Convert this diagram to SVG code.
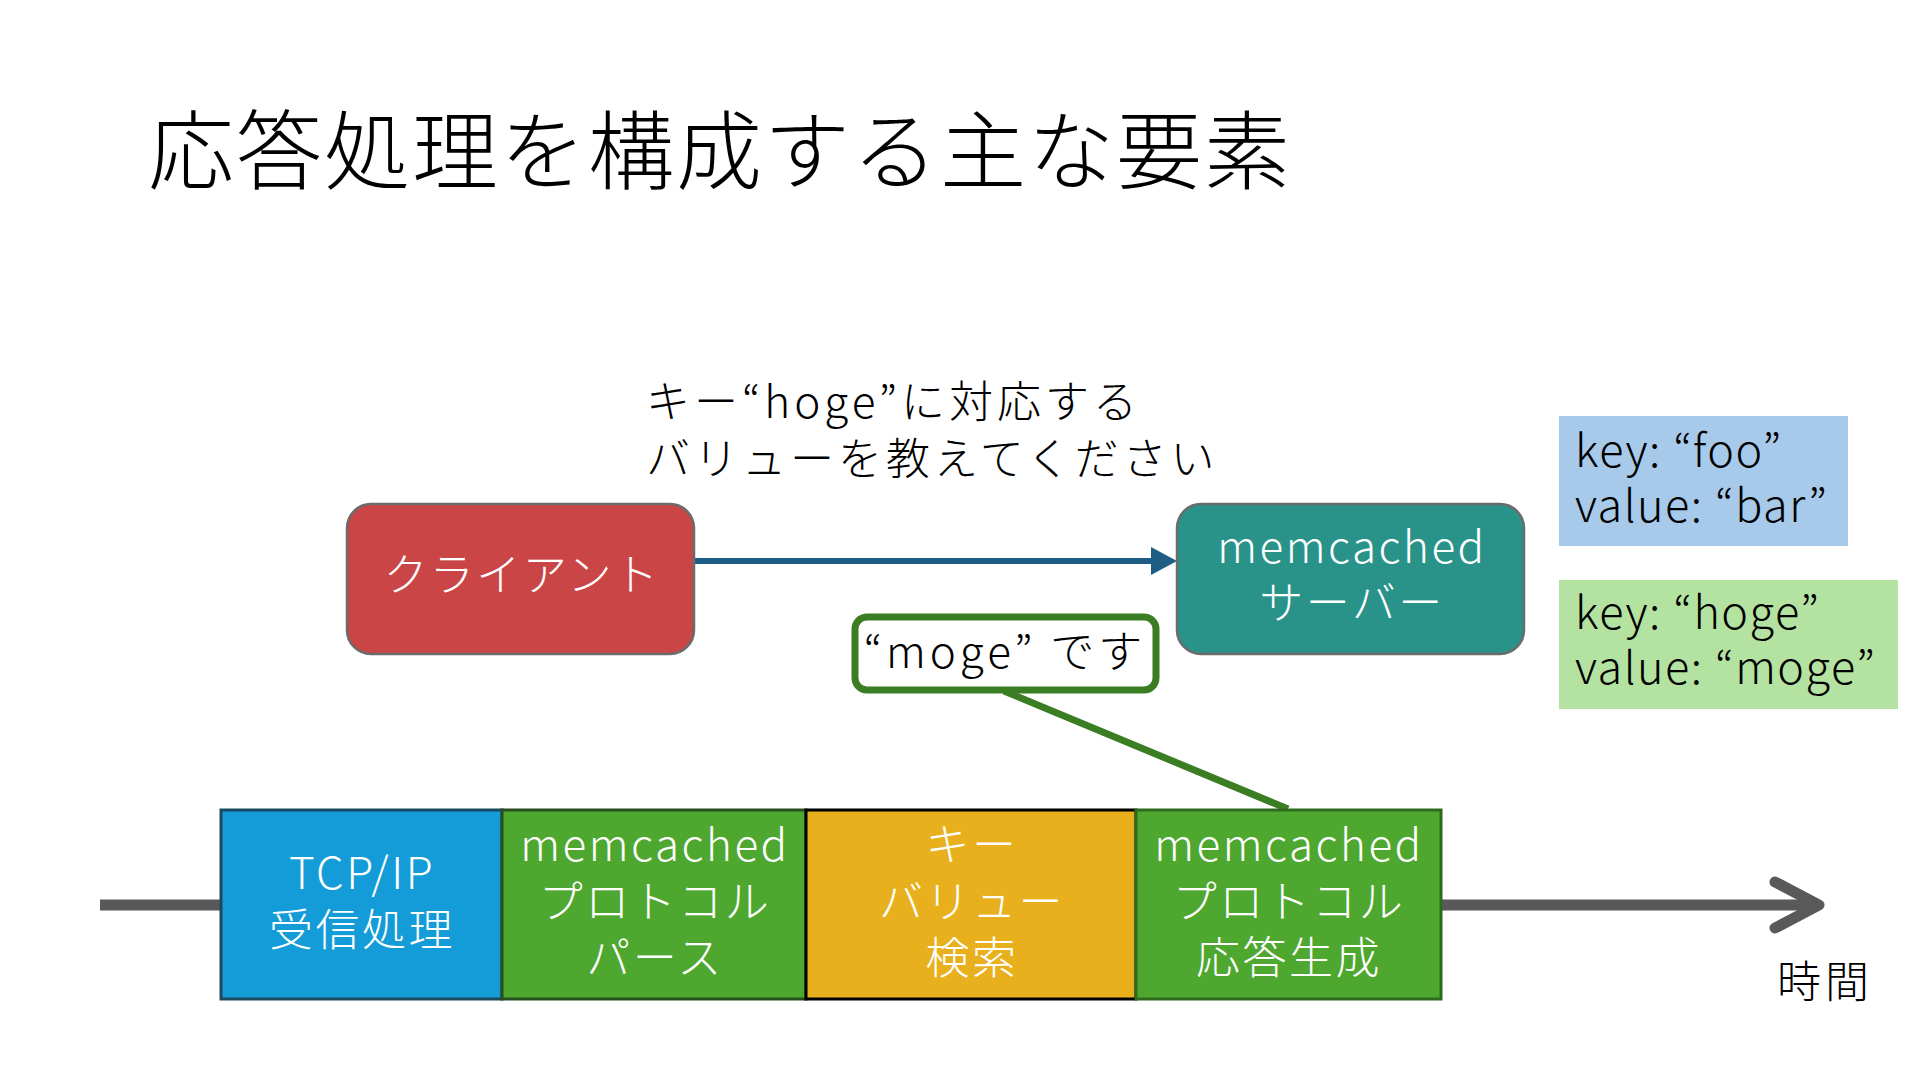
<svg xmlns="http://www.w3.org/2000/svg" width="1920" height="1080" viewBox="0 0 1920 1080">
<style>
text{font-family:"Noto Sans CJK JP","Noto Sans",sans-serif;font-weight:300}
.title{font-size:86px;fill:#000;letter-spacing:2px}
.lbl{font-size:44px;fill:#000;letter-spacing:4px}
.w{font-size:44px;fill:#fff;text-anchor:middle;letter-spacing:2.5px}
.kv{font-size:45px;fill:#000;letter-spacing:1.5px}
.seg{stroke-width:3}
</style>
<rect width="1920" height="1080" fill="#fff"/>
<text class="title" x="148" y="183">応答処理を構成する主な要素</text>
<text class="lbl" x="646" y="418" letter-spacing="3.2">キー“hoge”に対応する</text>
<text class="lbl" x="646" y="475">バリューを教えてください</text>

<g id="connectors">
<line x1="100" y1="905" x2="1816" y2="905" stroke="#595959" stroke-width="11"/>
<polyline points="1775,882 1819,905 1775,928" fill="none" stroke="#595959" stroke-width="11" stroke-linecap="round" stroke-linejoin="round"/>
<line x1="694" y1="561" x2="1156" y2="561" stroke="#1F5E84" stroke-width="6"/>
<polygon points="1151,547 1177,561 1151,575" fill="#1F5E84"/>
<line x1="1004" y1="691" x2="1288" y2="809" stroke="#3A7D22" stroke-width="7"/>
</g>

<g id="client">
<rect x="347" y="504" width="347" height="150" rx="24" fill="#CA4545" stroke="#6B6B6B" stroke-width="2.5"/>
<text class="w" x="522" y="591" letter-spacing="3.5">クライアント</text>
</g>
<g id="server">
<rect x="1177" y="504" width="347" height="150" rx="24" fill="#29938A" stroke="#6B6B6B" stroke-width="2.5"/>
<text class="w" x="1352" y="563">memcached</text>
<text class="w" x="1352" y="619">サーバー</text>
</g>
<g id="reply">
<rect x="855" y="617" width="301" height="73" rx="12" fill="#fff" stroke="#3A7D22" stroke-width="7"/>
<text class="lbl" x="1005" y="668" text-anchor="middle" letter-spacing="0.5">“moge” です</text>
</g>
<g id="kv1">
<rect x="1559" y="416" width="289" height="130" fill="#A7C9EA"/>
<text class="kv" x="1575" y="467">key: “foo”</text>
<text class="kv" x="1575" y="522">value: “bar”</text>
</g>
<g id="kv2">
<rect x="1559" y="580" width="339" height="129" fill="#B4E3A1"/>
<text class="kv" x="1575" y="629">key: “hoge”</text>
<text class="kv" x="1575" y="684">value: “moge”</text>
</g>

<g id="tcp">
<rect x="221" y="810" width="281" height="189" fill="#139CD8" stroke="#1B4A5E" class="seg"/>
<text class="w" x="362" y="889">TCP/IP</text>
<text class="w" x="362" y="946">受信処理</text>
</g>
<g id="parse">
<rect x="502" y="810" width="304" height="189" fill="#4EA72E" stroke="#254F1C" class="seg"/>
<text class="w" x="655" y="861">memcached</text>
<text class="w" x="655" y="918">プロトコル</text>
<text class="w" x="655" y="974">パース</text>
</g>
<g id="lookup">
<rect x="806" y="810" width="330" height="189" fill="#E8B01C" stroke="#000" class="seg"/>
<text class="w" x="972" y="861">キー</text>
<text class="w" x="972" y="918">バリュー</text>
<text class="w" x="972" y="974">検索</text>
</g>
<g id="respond">
<rect x="1136" y="810" width="305" height="189" fill="#4EA72E" stroke="#2E6B1E" class="seg"/>
<text class="w" x="1289" y="861">memcached</text>
<text class="w" x="1289" y="918">プロトコル</text>
<text class="w" x="1289" y="974">応答生成</text>
</g>
<text class="lbl" x="1777" y="998" letter-spacing="0">時間</text>
</svg>
